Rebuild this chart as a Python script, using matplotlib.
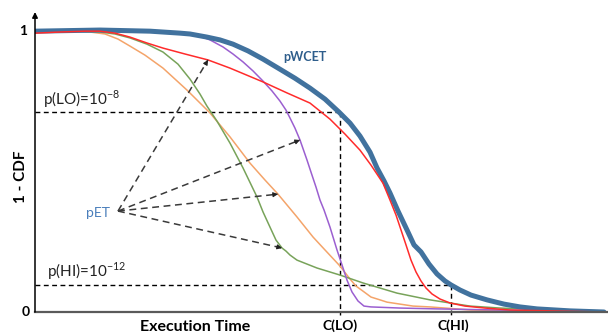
import matplotlib
matplotlib.use("Agg")
import matplotlib.pyplot as plt

plt.rcParams['font.family'] = ['Lato', 'DejaVu Sans']
plt.rcParams['mathtext.fontset'] = 'custom'
plt.rcParams['mathtext.rm'] = 'Lato'

# ---- data (execution time units, 1-CDF) ----
pwcet_x = [0, 65, 115, 145, 155, 172, 185, 198, 213, 228, 245, 260, 275, 290, 304, 315, 325, 335,
           342, 349, 355, 363, 372, 379, 386, 394, 402, 410, 416, 425, 436, 452, 469, 485, 502,
           535, 569]
pwcet_y = [0.996, 1.0, 0.996, 0.989, 0.986, 0.975, 0.965, 0.950, 0.926, 0.897, 0.861, 0.829,
           0.794, 0.755, 0.709, 0.670, 0.624, 0.567, 0.511, 0.465, 0.422, 0.358, 0.291, 0.238,
           0.213, 0.170, 0.135, 0.110, 0.096, 0.078, 0.060, 0.043, 0.028, 0.018, 0.011, 0.004, 0.0]

red_x = [0, 25, 50, 65, 80, 95, 112, 128, 150, 173, 195, 228, 252, 275, 295, 310, 325, 336, 348,
         355, 361, 366, 371, 376, 381, 386, 391, 397, 405, 415, 430, 450, 475, 515, 569]
red_y = [0.989, 0.993, 0.996, 0.996, 0.989, 0.975, 0.954, 0.936, 0.915, 0.894, 0.865, 0.816,
         0.777, 0.741, 0.684, 0.631, 0.574, 0.521, 0.457, 0.397, 0.344, 0.291, 0.238, 0.184,
         0.142, 0.110, 0.085, 0.064, 0.046, 0.032, 0.021, 0.014, 0.007, 0.004, 0.0]

purple_x = [0, 65, 115, 145, 162, 175, 188, 198, 208, 218, 228, 237, 245, 251, 255, 260, 265, 272,
            276, 281, 285, 289, 295, 302, 307, 312, 317, 323, 329, 336, 365, 402, 465, 525, 569]
purple_y = [0.996, 1.0, 0.996, 0.993, 0.982, 0.965, 0.940, 0.915, 0.887, 0.855, 0.819, 0.784,
            0.748, 0.716, 0.688, 0.652, 0.610, 0.539, 0.496, 0.443, 0.397, 0.362, 0.301, 0.220,
            0.167, 0.113, 0.071, 0.039, 0.021, 0.018, 0.014, 0.011, 0.007, 0.004, 0.0]

green_x = [0, 45, 65, 80, 95, 112, 128, 143, 155, 165, 172, 182, 195, 208, 222, 228, 235, 241,
           244, 247, 251, 255, 262, 282, 305, 328, 362, 395, 435, 465, 515, 569]
green_y = [0.996, 0.996, 0.993, 0.986, 0.972, 0.950, 0.922, 0.879, 0.826, 0.773, 0.730, 0.677,
           0.599, 0.511, 0.408, 0.355, 0.301, 0.255, 0.241, 0.227, 0.216, 0.202, 0.184, 0.156,
           0.131, 0.103, 0.067, 0.043, 0.021, 0.014, 0.007, 0.004]

orange_x = [0, 35, 55, 70, 83, 95, 110, 128, 152, 175, 195, 215, 230, 243, 262, 278, 290, 305,
            315, 321, 328, 336, 345, 352, 378, 395, 436, 485, 569]
orange_y = [0.993, 0.996, 0.993, 0.986, 0.968, 0.943, 0.911, 0.865, 0.787, 0.706, 0.621, 0.528,
            0.468, 0.418, 0.337, 0.266, 0.220, 0.163, 0.117, 0.092, 0.074, 0.053, 0.043, 0.035,
            0.021, 0.018, 0.007, 0.004, 0.0]

p_lo, p_hi = 0.709, 0.096
c_lo, c_hi = 305, 416

pet_origin = (83, 0.358)
pet_tips_x = [173, 265, 243, 247]
pet_tips_y = [0.894, 0.610, 0.418, 0.227]

# ---- figure ----
fig = plt.figure(figsize=(6.08, 3.34), dpi=100)
ax = fig.add_axes([35/608, 22/334, 573/608, 300/334])
ax.set_xlim(0, 573)
ax.set_ylim(0, 1.064)
for s in ['top', 'right', 'left']:
    ax.spines[s].set_visible(False)
ax.spines['bottom'].set_color('#5a5a5a')
ax.spines['bottom'].set_linewidth(1.6)
ax.set_xticks([])
ax.set_yticks([])

# y-axis arrow
ax.annotate('', xy=(0, 1.0), xycoords='axes fraction', xytext=(0, 0),
            arrowprops=dict(arrowstyle='-|>', color='black', lw=1.1,
                            mutation_scale=8, shrinkA=0, shrinkB=0))

# threshold dashed lines
dash = (0, (3.5, 2.5))
ax.plot([0, c_lo], [p_lo, p_lo], color='black', lw=1.0, ls=dash)
ax.plot([c_lo, c_lo], [p_lo, -0.01], color='black', lw=1.0, ls=dash, clip_on=False)
ax.plot([0, c_hi], [p_hi, p_hi], color='black', lw=1.0, ls=dash)
ax.plot([c_hi, c_hi], [p_hi, -0.01], color='black', lw=1.0, ls=dash, clip_on=False)

# curves
kw = dict(lw=1.1, solid_joinstyle='round')
ax.plot(orange_x, orange_y, color='#F4A46A', **kw)
ax.plot(green_x, green_y, color='#78A35A', **kw)
ax.plot(purple_x, purple_y, color='#9B5FD0', **kw)
ax.plot(pwcet_x, pwcet_y, color='#41729E', lw=3.6, solid_capstyle='round',
        solid_joinstyle='round')
ax.plot(red_x, red_y, color='#FF2B2B', **kw)

# pET arrows
for tx, ty in zip(pet_tips_x, pet_tips_y):
    ax.plot([pet_origin[0], tx], [pet_origin[1], ty], color='#3a3a3a', lw=1.1,
            ls=(0, (4.5, 3)))
    bx = tx - 0.03 * (tx - pet_origin[0])
    by = ty - 0.03 * (ty - pet_origin[1])
    ax.annotate('', xy=(tx, ty), xytext=(bx, by),
                arrowprops=dict(arrowstyle='-|>', color='#222222', lw=0.8,
                                mutation_scale=7, shrinkA=0, shrinkB=0))

# texts
ax.text(-12, 0.996, '1', ha='center', va='center', fontsize=10, fontweight='bold')
ax.text(-9, 0.0, '0', ha='center', va='center', fontsize=10, fontweight='bold')
ax.text(-14, 0.479, '1 - CDF', ha='center', va='center', rotation=90, fontsize=11,
        fontweight='bold')
ax.text(160, -0.068, 'Execution Time', ha='center', va='baseline', fontsize=11.5,
        fontweight='bold', clip_on=False)
ax.text(c_lo, -0.062, 'C(LO)', ha='center', va='baseline', fontsize=10, fontweight='bold')
ax.text(c_hi + 2, -0.062, 'C(HI)', ha='center', va='baseline', fontsize=10, fontweight='bold')
ax.text(8, 0.734, r'p(LO)=10$^{\mathregular{-8}}$', ha='left', va='baseline', fontsize=11,
        color='#222222')
ax.text(12, 0.124, r'p(HI)=10$^{\mathregular{-12}}$', ha='left', va='baseline', fontsize=11,
        color='#222222')
ax.text(270, 0.904, 'pWCET', ha='center', va='center', fontsize=9, fontweight='bold',
        color='#2F5E8C')
ax.text(63, 0.351, 'pET', ha='center', va='center', fontsize=10, color='#4A7EBB')

fig.savefig('out.png', dpi=100)
